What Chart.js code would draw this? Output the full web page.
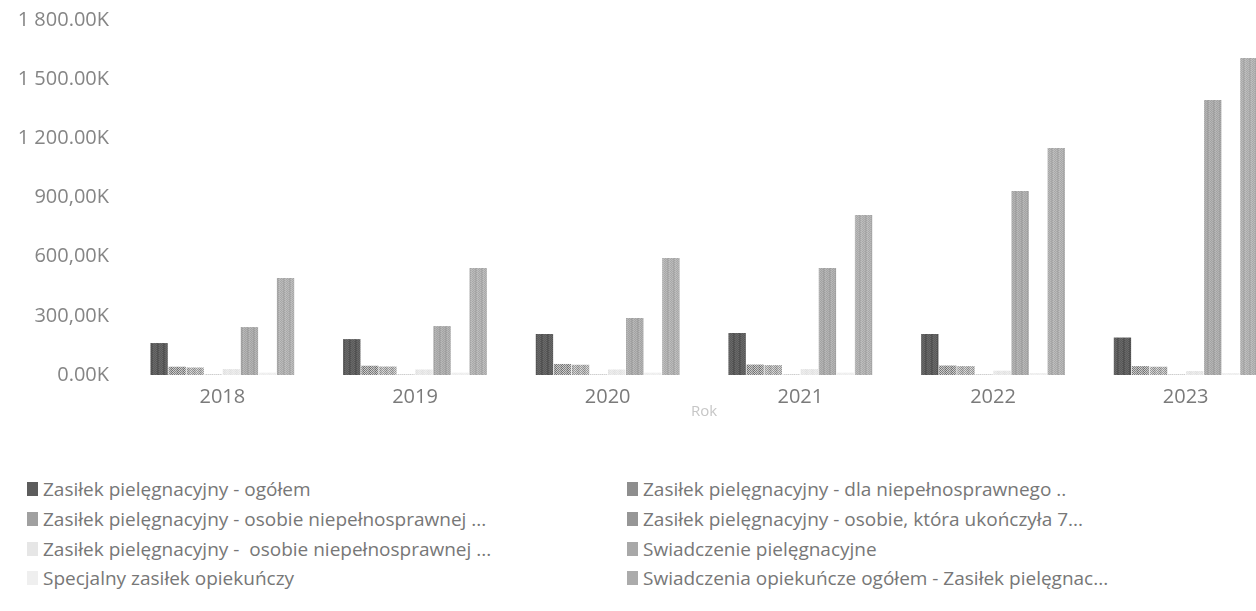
<!DOCTYPE html>
<html lang="pl">
<head>
<meta charset="utf-8">
<script src="https://cdn.jsdelivr.net/npm/chart.js@4.4.1/dist/chart.umd.min.js"></script>
<style>
  html, body { margin: 0; padding: 0; background: #fff; overflow: hidden; }
  body { width: 1256px; height: 611px; position: relative; font-family: "Open Sans", sans-serif; }
  #plotWrap { position: absolute; left: 0; top: 0; width: 1282px; height: 425px; }
  .leg { position: absolute; font-size: 19px; color: #777; white-space: pre; line-height: 24px; }
  .leg i { position: absolute; left: -16px; top: 5px; width: 11px; height: 14px; }
</style>
</head>
<body>
<div id="plotWrap"><canvas id="zasilkiChart"></canvas></div>
<div id="legend"></div>
<script>
// Lata i wartości (tys.)
const years = ['2018', '2019', '2020', '2021', '2022', '2023'];
const yTickLabels = ['0.00K', '300,00K', '600,00K', '900,00K', '1 200.00K', '1 500.00K', '1 800.00K'];

const seriesNames = [
    'Zasiłek pielęgnacyjny - ogółem',
    'Zasiłek pielęgnacyjny - dla niepełnosprawnego ..',
    'Zasiłek pielęgnacyjny - osobie niepełnosprawnej ...',
    'Zasiłek pielęgnacyjny - osobie, która ukończyła 7...',
    'Zasiłek pielęgnacyjny -  osobie niepełnosprawnej ...',
    'Swiadczenie pielęgnacyjne',
    'Specjalny zasiłek opiekuńczy',
    'Swiadczenia opiekuńcze ogółem - Zasiłek pielęgnac...'
];

const zpOgolem = [162, 182, 208, 213, 208, 190];
const zpDziecko = [42, 47, 56, 53, 48, 45];
const zpNiepelnosprawny16 = [38, 43, 52, 50, 45, 42];
const zp75lat = [2, 2, 2, 2, 2, 2];
const zpNiepelnosprawny21 = [30, 28, 28, 30, 22, 20];
const swiadczeniePiel = [243, 248, 289, 542, 933, 1394];
const specjalnyZasilek = [12, 12, 12, 12, 10, 10];
const opiekunczeOgolem = [492, 542, 593, 811, 1151, 1607];

const seriesValues = [zpOgolem, zpDziecko, zpNiepelnosprawny16, zp75lat,
                      zpNiepelnosprawny21, swiadczeniePiel, specjalnyZasilek, opiekunczeOgolem];

// szare tekstury słupków (kolumny pikseli w kafelku)
const tiles = [
    ['#6a6a6a', '#555555', '#4f4f4f', '#5e5e5e', '#686868', '#5a5a5a'],
    ['#7d7d7d', '#c8c8c8', '#8a8a8a', '#bdbdbd', '#6f6f6f', '#d0d0d0'],
    ['#959595', '#cfcfcf', '#8a8a8a', '#c6c6c6', '#9a9a9a', '#dadada'],
    ['#8a8a8a', '#c0c0c0', '#7c7c7c', '#cccccc', '#909090', '#bbbbbb'],
    ['#e6e6e6', '#ededed', '#e0e0e0', '#eaeaea', '#e4e4e4', '#efefef'],
    ['#b4b4b4', '#a6a6a6', '#9d9d9d', '#adadad', '#b8b8b8', '#a2a2a2'],
    ['#f1f1f1', '#eeeeee', '#f3f3f3', '#efefef', '#f2f2f2', '#ececec'],
    ['#bababa', '#ababab', '#a3a3a3', '#b3b3b3', '#bebebe', '#a7a7a7']
];
const legendSwatch = ['#5c5c5c', '#8e8e8e', '#a0a0a0', '#969696', '#e6e6e6', '#a8a8a8', '#efefef', '#ababab'];

function makePattern(cols) {
    const c = document.createElement('canvas');
    c.width = cols.length;
    c.height = 4;
    const g = c.getContext('2d');
    for (let y = 0; y < 4; y++) {
        for (let x = 0; x < cols.length; x++) {
            g.fillStyle = cols[(x + (y % 2)) % cols.length];
            g.fillRect(x, y, 1, 1);
        }
    }
    return g.createPattern(c, 'repeat');
}

const datasets = seriesNames.map((name, i) => ({
    label: name,
    data: seriesValues[i],
    backgroundColor: makePattern(tiles[i]),
    borderWidth: 0,
    categoryPercentage: 0.75,
    barPercentage: 0.96
}));

new Chart(document.getElementById('zasilkiChart'), {
    type: 'bar',
    data: { labels: years, datasets: datasets },
    options: {
        responsive: true,
        maintainAspectRatio: false,
        animation: false,
        layout: { padding: { top: 20, left: 0, right: 0, bottom: 0 } },
        plugins: {
            legend: { display: false },
            tooltip: { enabled: false }
        },
        scales: {
            x: {
                offset: true,
                grid: { display: false, drawTicks: false },
                border: { display: false },
                ticks: {
                    color: '#7a7a7a',
                    padding: 10,
                    maxRotation: 0,
                    autoSkip: false,
                    font: { family: 'Open Sans', size: 20 }
                },
                title: {
                    display: true,
                    text: 'Rok',
                    color: '#c6c6c6',
                    padding: { top: 0, bottom: 4 },
                    font: { family: 'Open Sans', size: 15 }
                },
                afterFit: s => { s.height = 50; }
            },
            y: {
                min: 0,
                max: 1800,
                grid: { display: false, drawTicks: false },
                border: { display: false },
                ticks: {
                    stepSize: 300,
                    color: '#858585',
                    padding: 17,
                    font: { family: 'Open Sans', size: 20 },
                    callback: (v, idx) => yTickLabels[idx]
                },
                afterFit: s => {
                    s.width = 126;
                    s.paddingTop = 0;
                    s.paddingBottom = 0;
                }
            }
        }
    }
});

// legenda w dwóch kolumnach
const legendEl = document.getElementById('legend');
const rowY = [477, 507, 537, 566];
seriesNames.forEach((name, i) => {
    const col = i % 2;
    const row = Math.floor(i / 2);
    const item = document.createElement('div');
    item.className = 'leg';
    item.style.left = (col === 0 ? 43 : 643) + 'px';
    item.style.top = rowY[row] + 'px';
    const sw = document.createElement('i');
    sw.style.background = legendSwatch[i];
    item.appendChild(sw);
    item.appendChild(document.createTextNode(name));
    legendEl.appendChild(item);
});
</script>
</body>
</html>
